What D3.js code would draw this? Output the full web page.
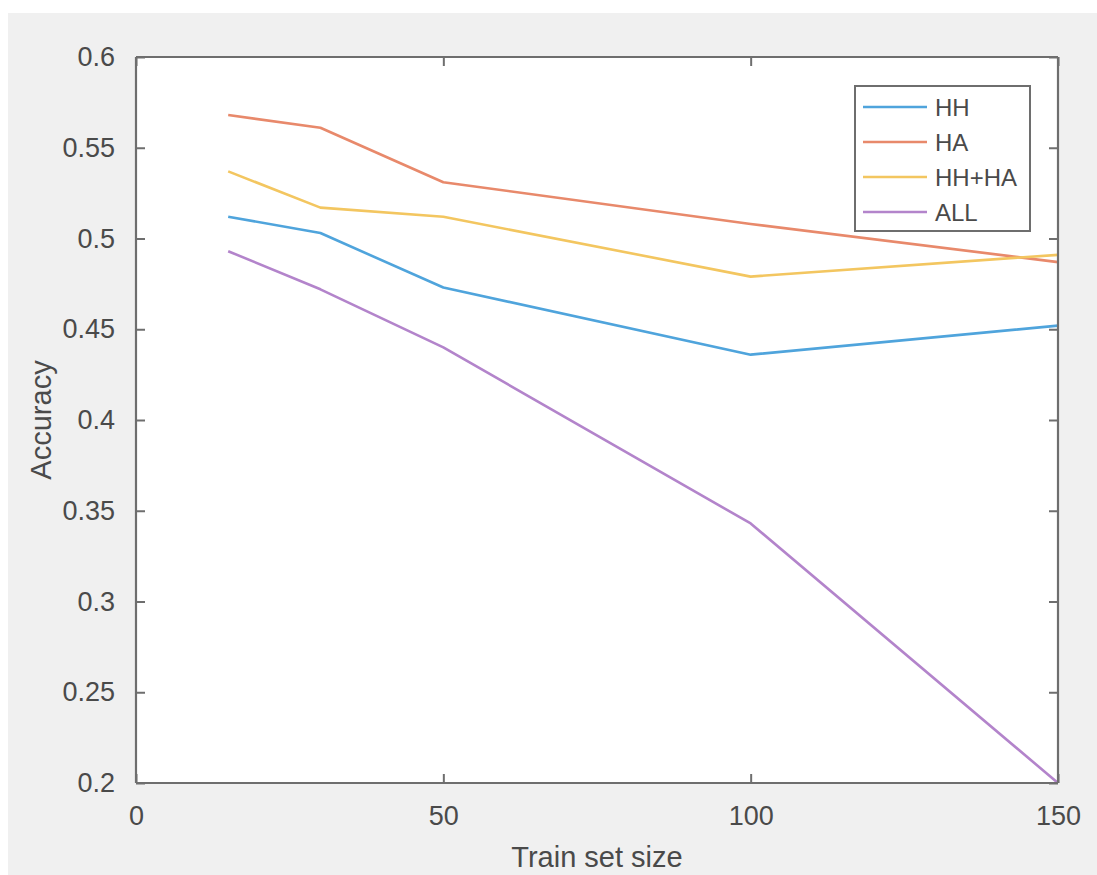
<!DOCTYPE html>
<html>
<head>
<meta charset="utf-8">
<script src="https://cdn.jsdelivr.net/npm/d3@7"></script>
<style>
  html, body { margin: 0; padding: 0; background: #ffffff; }
  svg { display: block; }
  text { font-family: "Liberation Sans", Arial, Helvetica, sans-serif; fill: #4a4a4a; }
</style>
</head>
<body>
<svg id="chart" width="1097" height="875"></svg>
<script>
// ---- data ----
const trainSizes = [15, 30, 50, 100, 150];
const seriesNames = ["HH", "HA", "HH+HA", "ALL"];
const valuesHH    = [0.512, 0.503, 0.473, 0.436, 0.452];
const valuesHA    = [0.568, 0.561, 0.531, 0.508, 0.487];
const valuesHHHA  = [0.537, 0.517, 0.512, 0.479, 0.491];
const valuesALL   = [0.493, 0.472, 0.440, 0.343, 0.200];
const xTicks = [0, 50, 100, 150];
const yTicks = [0.2, 0.25, 0.3, 0.35, 0.4, 0.45, 0.5, 0.55, 0.6];
const seriesColors = ["#4fa4dc", "#e8896b", "#f3c660", "#b384cb"];

const series = [valuesHH, valuesHA, valuesHHHA, valuesALL].map((v, i) => ({
  name: seriesNames[i], color: seriesColors[i],
  pts: trainSizes.map((x, j) => ({ x, y: v[j] }))
}));

const svg = d3.select("#chart");
// figure background
svg.append("rect").attr("x", 8).attr("y", 13).attr("width", 1097 - 8).attr("height", 875 - 13)
  .attr("fill", "#f0f0f0");

const L = 136, R = 1058, T = 57, B = 783;
const x = d3.scaleLinear().domain([0, 150]).range([L, R]);
const y = d3.scaleLinear().domain([0.2, 0.6]).range([B, T]);

// plot area
svg.append("rect").attr("x", L).attr("y", T).attr("width", R - L).attr("height", B - T).attr("fill", "#ffffff");

// lines
const line = d3.line().x(d => x(d.x)).y(d => y(d.y));
const plot = svg.append("g");
series.forEach(s => {
  plot.append("path").datum(s.pts).attr("d", line)
    .attr("fill", "none").attr("stroke", s.color).attr("stroke-width", 2.6)
    .attr("stroke-linejoin", "round");
});

// axes (MATLAB style: inward ticks, box)
const axisColor = "#6e6e6e";
const tickLen = 9;
const fs = 27;
const axB = svg.append("g").attr("transform", `translate(0,${B})`)
  .call(d3.axisBottom(x).tickValues(xTicks).tickSize(-tickLen).tickPadding(tickLen + 14).tickFormat(d3.format("d")));
const axT = svg.append("g").attr("transform", `translate(0,${T})`)
  .call(d3.axisTop(x).tickValues(xTicks).tickSize(-tickLen).tickFormat(""));
const axL = svg.append("g").attr("transform", `translate(${L},0)`)
  .call(d3.axisLeft(y).tickValues(yTicks).tickSize(-tickLen).tickPadding(tickLen + 12).tickFormat(d => d3.format("")(+d.toFixed(2))));
const axR = svg.append("g").attr("transform", `translate(${R},0)`)
  .call(d3.axisRight(y).tickValues(yTicks).tickSize(-tickLen).tickFormat(""));
[axB, axT, axL, axR].forEach(a => {
  a.select(".domain").attr("stroke", axisColor).attr("stroke-width", 2.2);
  a.selectAll(".tick line").attr("stroke", axisColor).attr("stroke-width", 2);
  a.selectAll(".tick text").attr("font-size", fs).attr("fill", "#4a4a4a")
    .style("font-family", '"Liberation Sans", Arial, sans-serif');
});
axB.selectAll(".domain").attr("d", `M${L},0H${R}`);
axT.selectAll(".domain").attr("d", `M${L},0H${R}`);
axL.selectAll(".domain").attr("d", `M0,${T}V${B}`);
axR.selectAll(".domain").attr("d", `M0,${T}V${B}`);

// axis labels
svg.append("text").attr("x", (L + R) / 2).attr("y", 867).attr("text-anchor", "middle")
  .attr("font-size", 29).text("Train set size");
svg.append("text").attr("transform", `translate(51,${(T + B) / 2}) rotate(-90)`)
  .attr("text-anchor", "middle").attr("font-size", 29).text("Accuracy");

// legend
const lg = svg.append("g");
lg.append("rect").attr("x", 855).attr("y", 86).attr("width", 175).attr("height", 145)
  .attr("fill", "#ffffff").attr("stroke", axisColor).attr("stroke-width", 2);
series.forEach((s, i) => {
  const yy = 107 + i * 35;
  lg.append("line").attr("x1", 863).attr("x2", 927).attr("y1", yy).attr("y2", yy)
    .attr("stroke", s.color).attr("stroke-width", 2.6);
  lg.append("text").attr("x", 935).attr("y", yy).attr("dy", "0.36em")
    .attr("font-size", 24).text(s.name);
});
</script>
</body>
</html>
